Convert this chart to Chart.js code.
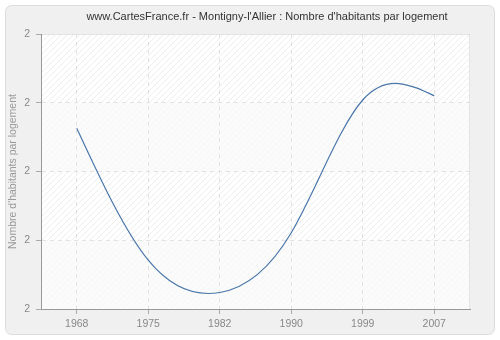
<!DOCTYPE html>
<html>
<head>
<meta charset="utf-8">
<script src="https://cdn.jsdelivr.net/npm/chart.js"></script>
<style>
  html, body { margin: 0; padding: 0; background: #ffffff; }
  #wrap { width: 500px; height: 340px; }
</style>
</head>
<body>
<div id="wrap"><canvas id="chart" width="500" height="340"></canvas></div>
<script>
// values
const years = ['1968', '1975', '1982', '1990', '1999', '2007'];
const perHousing = [2.263, 2.071, 2.024, 2.111, 2.304, 2.310];
const yTicks = [2.0, 2.1, 2.2, 2.3, 2.4];
const chartTitle = "www.CartesFrance.fr - Montigny-l'Allier : Nombre d'habitants par logement";
const yTitle = "Nombre d'habitants par logement";

// hatched pattern for the plot area
function makeHatch() {
    const c = document.createElement('canvas');
    c.width = 6;
    c.height = 6;
    const g = c.getContext('2d');
    g.fillStyle = '#ffffff';
    g.fillRect(0, 0, 6, 6);
    g.strokeStyle = '#ededed';
    g.lineWidth = 1;
    g.beginPath();
    g.moveTo(0, 6);
    g.lineTo(6, 0);
    g.moveTo(-1, 1);
    g.lineTo(1, -1);
    g.moveTo(5, 7);
    g.lineTo(7, 5);
    g.stroke();
    return c;
}

const backdrop = {
    id: 'backdrop',
    beforeDraw(chart) {
        const ctx = chart.ctx;
        const a = chart.chartArea;
        ctx.save();
        // outer frame
        ctx.fillStyle = '#f0f0f0';
        ctx.strokeStyle = '#dcdcdc';
        ctx.lineWidth = 1;
        ctx.beginPath();
        ctx.roundRect(5.5, 5.5, 489, 329, 6);
        ctx.fill();
        ctx.stroke();
        // plot area
        ctx.fillStyle = ctx.createPattern(makeHatch(), 'repeat');
        ctx.fillRect(a.left, a.top, a.right - a.left, a.bottom - a.top);
        // lighter alternate bands
        const y = chart.scales.y;
        ctx.fillStyle = 'rgba(250,250,250,0.7)';
        for (let i = 0; i < yTicks.length - 1; i++) {
            if (i % 2 === 0) {
                const t = y.getPixelForValue(yTicks[i + 1]);
                const b = y.getPixelForValue(yTicks[i]);
                ctx.fillRect(a.left, t, a.right - a.left, b - t);
            }
        }
        ctx.strokeStyle = '#e4e4e4';
        ctx.strokeRect(a.left + 0.5, a.top + 0.5, a.right - a.left - 1, a.bottom - a.top);
        // title
        ctx.fillStyle = '#333333';
        ctx.font = '11px "Liberation Sans"';
        ctx.textAlign = 'center';
        ctx.textBaseline = 'middle';
        ctx.fillText(chartTitle, 267, 17);
        ctx.restore();
    }
};

// the reference uses a natural spline: reset the bezier handles chart.js computed
const naturalSpline = {
    id: 'naturalSpline',
    beforeDatasetsDraw(chart) {
        const meta = chart.getDatasetMeta(0);
        const pts = meta.data;
        const n = pts.length;
        if (n < 3) return;
        const x = pts.map(p => p.x);
        const y = pts.map(p => p.y);
        const h = [];
        for (let i = 0; i < n - 1; i++) h.push(x[i + 1] - x[i]);
        // solve for second derivatives, M[0] = M[n-1] = 0
        const M = new Array(n).fill(0);
        const c = new Array(n).fill(0);
        const d = new Array(n).fill(0);
        for (let i = 1; i < n - 1; i++) {
            const a = h[i - 1];
            const b = 2 * (h[i - 1] + h[i]);
            const r = 6 * ((y[i + 1] - y[i]) / h[i] - (y[i] - y[i - 1]) / h[i - 1]);
            const den = b - a * c[i - 1];
            c[i] = h[i] / den;
            d[i] = (r - a * d[i - 1]) / den;
        }
        for (let i = n - 2; i >= 1; i--) M[i] = d[i] - c[i] * M[i + 1];
        for (let i = 0; i < n; i++) {
            let m;
            if (i < n - 1) {
                m = (y[i + 1] - y[i]) / h[i] - h[i] * (2 * M[i] + M[i + 1]) / 6;
            } else {
                m = (y[i] - y[i - 1]) / h[i - 1] + h[i - 1] * (M[i - 1] + 2 * M[i]) / 6;
            }
            const hp = i > 0 ? h[i - 1] : 0;
            const hn = i < n - 1 ? h[i] : 0;
            pts[i].cp1x = x[i] - hp / 3;
            pts[i].cp1y = y[i] - m * hp / 3;
            pts[i].cp2x = x[i] + hn / 3;
            pts[i].cp2y = y[i] + m * hn / 3;
        }
        meta.dataset._pointsUpdated = true;
        meta.dataset._path = undefined;
    }
};

new Chart(document.getElementById('chart'), {
    type: 'line',
    data: {
        labels: years,
        datasets: [{
            data: perHousing,
            borderColor: '#4a77aa',
            borderWidth: 1.2,
            pointRadius: 0,
            fill: false,
            tension: 0.4
        }]
    },
    options: {
        responsive: false,
        animation: false,
        layout: { padding: { left: 0, right: 30, top: 34, bottom: 0 } },
        plugins: {
            legend: { display: false },
            tooltip: { enabled: false },
            title: { display: false }
        },
        scales: {
            x: {
                offset: true,
                grid: {
                    offset: false,
                    color: '#e2e2e2',
                    tickColor: '#aaaaaa',
                    tickLength: 5
                },
                border: { color: '#999999', dash: [4, 4] },
                ticks: {
                    color: '#888888',
                    font: { family: 'Liberation Sans', size: 10.5 },
                    padding: 4,
                    maxRotation: 0
                },
                afterFit(scale) { scale.height = 31; }
            },
            y: {
                min: 2.0,
                max: 2.4,
                afterBuildTicks(scale) {
                    scale.ticks = yTicks.map(v => ({ value: v }));
                },
                grid: {
                    color: '#e2e2e2',
                    tickColor: '#aaaaaa',
                    tickLength: 5
                },
                border: { color: '#999999', dash: [4, 4] },
                ticks: {
                    color: '#888888',
                    font: { family: 'Liberation Sans', size: 10.5 },
                    padding: 6,
                    callback: v => Math.round(v).toString()
                },
                title: {
                    display: true,
                    text: yTitle,
                    color: '#999999',
                    font: { family: 'Liberation Sans', size: 10.5 },
                    padding: { top: 7, bottom: 0 }
                },
                afterFit(scale) { scale.width = 41; }
            }
        }
    },
    plugins: [backdrop, naturalSpline]
});
</script>
</body>
</html>
